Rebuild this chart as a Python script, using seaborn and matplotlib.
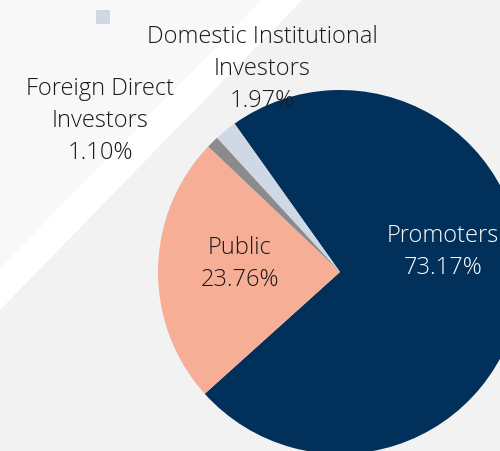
import matplotlib
matplotlib.use("Agg")
import matplotlib.pyplot as plt
from matplotlib.patches import Polygon, Rectangle
import seaborn as sns

# Shareholding pattern
categories = ["Promoters", "Domestic Institutional\nInvestors", "Foreign Direct\nInvestors", "Public"]
shares = [73.17, 1.97, 1.10, 23.76]
colors = ["#01305a", "#d0d8e6", "#8b8b8b", "#f7ae96"]
text_colors = ["white", "#1a1a1a", "#1a1a1a", "#1a1a1a"]

sns.set_theme(style="white")
plt.rcParams["font.family"] = ["Open Sans", "DejaVu Sans"]

W, H = 500, 451
fig = plt.figure(figsize=(W / 100, H / 100), dpi=100)

# background: light panel with a white diagonal band
bg = fig.add_axes([0, 0, 1, 1])
bg.set_xlim(0, W)
bg.set_ylim(H, 0)
bg.axis("off")
bg.add_patch(Polygon([(0, 0), (W, 0), (W, H), (0, H)], closed=True, color="#f2f2f2", lw=0))
bg.add_patch(Polygon([(0, 0), (302, 0), (0, 310)], closed=True, color="#ffffff", lw=0))
bg.add_patch(Polygon([(0, 0), (262, 0), (0, 268)], closed=True, color="#f8f8f8", lw=0))
# legend swatch remnant
bg.add_patch(Rectangle((96, 10), 14, 14, color=colors[1], lw=0))

ax = fig.add_axes([0, 0, 1, 1])
ax.set_xlim(0, W)
ax.set_ylim(0, H)
ax.set_aspect("equal")
ax.axis("off")
ax.patch.set_alpha(0)

cx, cy, r = 340, H - 272, 182
wedges, _ = ax.pie(shares, colors=colors, startangle=222, counterclock=True,
                   center=(cx, cy), radius=r, frame=True,
                   wedgeprops=dict(linewidth=0))
ax.set_xlim(0, W)
ax.set_ylim(0, H)
ax.axis("off")

label_pos = [(443, 252), (262, 69), (100, 121), (240, 264)]
for name, val, (x, y), tc in zip(categories, shares, label_pos, text_colors):
    ax.text(x, H - y, f"{name}\n{val:.2f}%", ha="center", va="center",
            fontsize=17, color=tc, fontweight=300, linespacing=1.43)

fig.savefig("out.png", dpi=100)
